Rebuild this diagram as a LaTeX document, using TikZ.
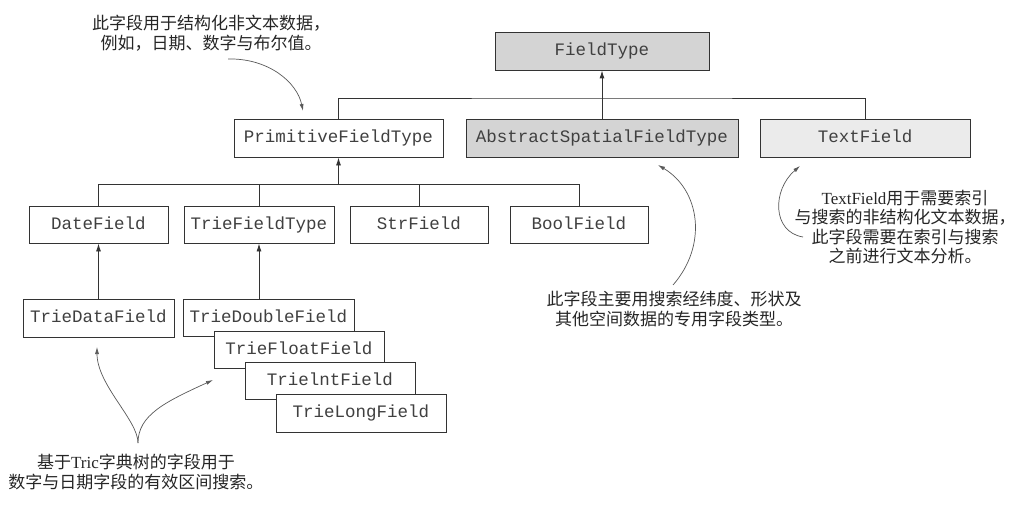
\documentclass[tikz,border=0pt]{standalone}
\usepackage{fontspec}
\setmainfont{Liberation Serif}
\setmonofont{Liberation Mono}
\newfontfamily\cjk{Noto Sans CJK SC}
\usetikzlibrary{arrows.meta}
\newcommand\zh[1]{{\cjk #1}}
\begin{document}
\begin{tikzpicture}[x=1pt,y=-1pt,
  box/.style={draw=black!80, line width=0.9pt, fill=white, inner sep=0pt,
    font=\ttfamily\fontsize{17.5}{20}\selectfont, text=black!75,
    text height=12pt, text depth=3pt},
  dark/.style={fill=black!17},
  light/.style={fill=black!8},
  link/.style={draw=black!80, line width=0.9pt},
  up/.style={link, -{Latex[length=8pt,width=5pt]}},
  note/.style={align=center, font=\fontsize{17}{19.5}\selectfont, text=black!85, inner sep=0pt},
  ann/.style={draw=black!65, line width=0.7pt, -{Latex[length=7pt,width=4pt]}}
]
\useasboundingbox (0,0) rectangle (1020,508);
\fill[white] (0,0) rectangle (1020,508);

% level 0/1
\node[box,dark,minimum width=214,minimum height=38] (ft) at (602,51) {FieldType};
\node[box,minimum width=209,minimum height=38] (pft) at (338.5,138) {PrimitiveFieldType};
\node[box,dark,minimum width=272,minimum height=38] (asft) at (602,138) {AbstractSpatialFieldType};
\node[box,light,minimum width=210,minimum height=38] (tf) at (865,138) {TextField};

% level 2
\node[box,minimum width=139,minimum height=37] (df) at (98.5,224.5) {DateField};
\node[box,minimum width=150,minimum height=37] (tft) at (259,224.5) {TrieFieldType};
\node[box,minimum width=138,minimum height=37] (sf) at (419,224.5) {StrField};
\node[box,minimum width=138,minimum height=37] (bf) at (579,224.5) {BoolField};

% level 3
\node[box,minimum width=151,minimum height=38] (tdf) at (98.5,318) {TrieDataField};
\node[box,minimum width=171,minimum height=37] (tdbl) at (268.5,317.5) {TrieDoubleField};
\node[box,minimum width=170,minimum height=37] (tflt) at (299,349.5) {TrieFloatField};
\node[box,minimum width=170,minimum height=37] (tint) at (330,381) {TrielntField};
\node[box,minimum width=170,minimum height=38] (tlong) at (361,413) {TrieLongField};

% connectors
\coordinate (b1) at (602,98);
\draw[link] (pft.north) |- (b1) -| (tf.north);
\draw[up] (asft.north) -- (ft.south);
\coordinate (b2) at (338.5,184.5);
\draw[link] (df.north) |- (b2) -| (bf.north);
\draw[link] (tft.north) -- (tft.north |- b2);
\draw[link] (sf.north) -- (sf.north |- b2);
\draw[up] (b2) -- (pft.south);
\draw[up] (tdf.north) -- (df.south);
\draw[up] (tft.south |- tdbl.north) -- (tft.south);

% notes
\node[note] (n1) at (211,33) {\zh{此字段用于结构化非文本数据，}\\\zh{例如，日期、数字与布尔值。}};
\node[note] (n2) at (674,309) {\zh{此字段主要用搜索经纬度、形状及}\\\zh{其他空间数据的专用字段类型。}};
\node[note] (n3) at (905,227) {TextField\zh{用于需要索引}\\\zh{与搜索的非结构化文本数据，}\\\zh{此字段需要在索引与搜索}\\\zh{之前进行文本分析。}};
\node[note] (n4) at (136,472) {\zh{基于}Tric\zh{字典树的字段用于}\\\zh{数字与日期字段的有效区间搜索。}};

% annotation arrows
\coordinate (s1) at (228,59);
\coordinate (e1) at (303,111);
\draw[ann] (s1) .. controls (268,58) and (297,82) .. (e1);
\coordinate (s2) at (673,285);
\coordinate (e2) at (658,165);
\draw[ann] (s2) .. controls (708,245) and (700,190) .. (e2);
\coordinate (s3) at (803,237);
\coordinate (e3) at (800,166);
\draw[ann] (s3) .. controls (772,232) and (772,190) .. (e3);
\coordinate (s4) at (138,443);
\coordinate (e4a) at (97,347);
\coordinate (e4b) at (213,380);
\draw[ann] (s4) .. controls (138,420) and (97,385) .. (e4a);
\draw[ann] (s4) .. controls (138,415) and (165,402) .. (e4b);
\end{tikzpicture}
\end{document}
